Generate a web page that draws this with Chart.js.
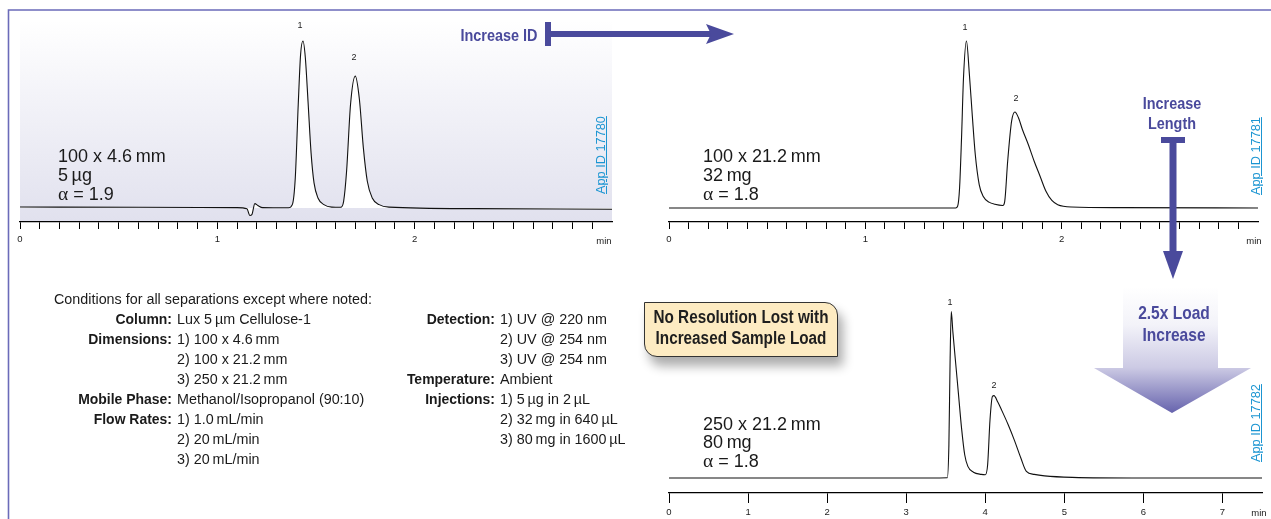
<!DOCTYPE html>
<html><head><meta charset="utf-8">
<script src="https://cdn.jsdelivr.net/npm/chart.js@4.4.1/dist/chart.umd.min.js"></script>
<style>
html,body{margin:0;padding:0;background:#fff;}
#wrap{position:relative;width:1271px;height:519px;overflow:hidden;background:#fff;}
canvas{position:absolute;}
.t{position:absolute;white-space:pre;font-family:'Liberation Sans',Arial,sans-serif;color:#1a1a1a;}
.big{font-size:18px;line-height:18px;}
.al{font-family:'Liberation Serif',serif;font-size:19.5px;}
.pk{font-size:9px;line-height:9px;color:#222;transform:translateX(-50%);}
.mn{font-size:9.5px;line-height:9.5px;color:#222;transform:translateX(-50%);}
.cond{font-size:15.5px;line-height:15.5px;transform-origin:0 50%;transform:scaleX(0.925);}
.lab{font-weight:bold;transform-origin:100% 50%;transform:translateX(-100%) scaleX(0.9);}
.blue{color:#4a4a9c;font-weight:bold;text-align:center;}
.app{color:#1b95d2;font-size:13px;line-height:13px;text-decoration:underline;transform-origin:0 0;transform:rotate(-90deg) scaleX(0.98);}
#note{position:absolute;left:644px;top:302px;width:192px;height:53px;background:#fdebc2;border:1.5px solid #333;border-radius:0 13px 0 13px;box-shadow:5px 9px 11px rgba(0,0,0,0.33);}
svg{position:absolute;left:0;top:0;}
</style>
</head><body>
<div id="wrap">
<canvas id="c1" width="622" height="230" style="left:5px;top:20px"></canvas>
<canvas id="c2" width="619" height="230" style="left:654px;top:20px"></canvas>
<canvas id="c3" width="623" height="219" style="left:654px;top:300px"></canvas>

<svg width="1271" height="519">
  <defs>
    <linearGradient id="ga" x1="0" y1="287" x2="0" y2="413" gradientUnits="userSpaceOnUse">
      <stop offset="0" stop-color="#ffffff"/>
      <stop offset="0.3" stop-color="#f3f3f9"/>
      <stop offset="0.64" stop-color="#cccae4"/>
      <stop offset="1" stop-color="#6663ad"/>
    </linearGradient>
  </defs>
  <path d="M8.5,519 L8.5,10 L1271,10" fill="none" stroke="#6b6bb9" stroke-width="1.6"/>
  <rect x="545" y="22" width="6" height="24" fill="#4a4a9c"/>
  <rect x="551" y="31" width="160" height="6" fill="#4a4a9c"/>
  <polygon points="706,24 734,34 706,44 711,34" fill="#4a4a9c"/>
  <rect x="1161" y="137" width="24" height="6" fill="#4a4a9c"/>
  <rect x="1169.5" y="143" width="7" height="110" fill="#4a4a9c"/>
  <polygon points="1163,251 1183,251 1173,279" fill="#4a4a9c"/>
  <polygon points="1123,287 1218,287 1218,368 1251,368 1172,413 1094,368 1123,368" fill="url(#ga)"/>
</svg>

<div id="note"></div>
<div class="t" style="left:741px;top:307px;transform:translateX(-50%) scaleX(0.85);text-align:center;font-weight:bold;font-size:18px;line-height:21px;color:#1e1e1e;">No Resolution Lost with
Increased Sample Load</div>

<div class="t blue" style="left:498.5px;top:27px;font-size:17px;line-height:17px;transform:translateX(-50%) scaleX(0.85);">Increase ID</div>
<div class="t blue" style="left:1172px;top:94px;font-size:16px;line-height:20px;transform:translateX(-50%) scaleX(0.9);">Increase
Length</div>
<div class="t blue" style="left:1174px;top:302px;font-size:18.5px;line-height:22px;transform:translateX(-50%) scaleX(0.84);">2.5x Load
Increase</div>

<!-- chart 1 annotations -->
<div class="t big" style="left:58px;top:147px;">100 x 4.6&#8201;mm</div>
<div class="t big" style="left:58px;top:166px;">5&#8201;µg</div>
<div class="t big" style="left:58px;top:185px;"><span class="al">α</span> = 1.9</div>
<div class="t pk" style="left:300px;top:21px;">1</div>
<div class="t pk" style="left:354px;top:53px;">2</div>
<div class="t mn" style="left:604px;top:236px;">min</div>
<div class="t app" style="left:594px;top:194px;">App ID 17780</div>

<!-- chart 2 annotations -->
<div class="t big" style="left:703px;top:147px;">100 x 21.2&#8201;mm</div>
<div class="t big" style="left:703px;top:166px;">32&#8201;mg</div>
<div class="t big" style="left:703px;top:185px;"><span class="al">α</span> = 1.8</div>
<div class="t pk" style="left:965px;top:23px;">1</div>
<div class="t pk" style="left:1016px;top:94px;">2</div>
<div class="t mn" style="left:1254px;top:236px;">min</div>
<div class="t app" style="left:1249px;top:195px;">App ID 17781</div>

<!-- chart 3 annotations -->
<div class="t big" style="left:703px;top:415px;">250 x 21.2&#8201;mm</div>
<div class="t big" style="left:703px;top:433px;">80&#8201;mg</div>
<div class="t big" style="left:703px;top:452px;"><span class="al">α</span> = 1.8</div>
<div class="t pk" style="left:950px;top:298px;">1</div>
<div class="t pk" style="left:994px;top:381px;">2</div>
<div class="t mn" style="left:1259px;top:508px;">min</div>
<div class="t app" style="left:1249px;top:462px;">App ID 17782</div>

<!-- conditions -->
<div class="t cond" style="left:54px;top:291px;">Conditions for all separations except where noted:</div>
<div id="condL"></div>
<div id="condR"></div>
</div>

<script>
// ---------- data ----------
const tickLabelsTop = ['0', '1', '2'];
const tickLabelsBottom = ['0', '1', '2', '3', '4', '5', '6', '7'];

const chart1Time   = [0, 0.6, 1.10, 1.15, 1.165, 1.175, 1.19, 1.205, 1.23, 1.36, 1.38, 1.395, 1.41, 1.422, 1.434, 1.446, 1.46, 1.475, 1.49, 1.51, 1.54, 1.58, 1.625, 1.64, 1.655, 1.675, 1.699, 1.72, 1.74, 1.76, 1.785, 1.82, 1.87, 2.3, 3.0];
const chart1Signal = [0.6, 0.4, 0.2, -0.5, -4.5, -4.0, 2.6, 1.5, 0.2, 0.1, 2, 18, 62, 92, 100, 90, 63, 33, 15, 6, 2, 0.5, 0.4, 4, 22, 62, 79, 65, 36, 16, 6, 2, 0.5, -0.4, -0.8];

const chart2Time   = [0, 1.0, 1.46, 1.47, 1.48, 1.49, 1.50, 1.515, 1.53, 1.545, 1.56, 1.58, 1.60, 1.63, 1.66, 1.70, 1.71, 1.725, 1.745, 1.762, 1.78, 1.80, 1.83, 1.86, 1.89, 1.92, 1.95, 1.98, 2.05, 2.3, 3.0];
const chart2Signal = [0, 0, 0, 1, 12, 42, 78, 100, 80, 55, 32, 14, 7, 3.5, 2.2, 1.5, 4, 28, 52, 57.5, 54, 47, 38, 28, 19, 10, 4.5, 2, 0.6, 0.2, 0];

const chart3Time   = [0, 3.0, 3.52, 3.54, 3.555, 3.57, 3.59, 3.62, 3.66, 3.70, 3.74, 3.78, 3.85, 3.95, 4.00, 4.03, 4.06, 4.09, 4.11, 4.16, 4.21, 4.29, 4.37, 4.45, 4.52, 4.62, 4.75, 5.1, 6.0, 7.5];
const chart3Signal = [0, 0, 0.2, 20, 70, 100, 88, 72, 51, 30, 14, 7, 3.5, 2.2, 2, 8, 35, 49, 49.5, 45.5, 40.5, 32, 22.5, 12, 4, 2.2, 1.3, 0.4, 0, 0];

const condLeftLabels = ['Column:', 'Dimensions:', '', '', 'Mobile Phase:', 'Flow Rates:', '', ''];
const condLeftValues = ['Lux 5\u2009µm Cellulose-1', '1) 100 x 4.6\u2009mm', '2) 100 x 21.2\u2009mm', '3) 250 x 21.2\u2009mm', 'Methanol/Isopropanol (90:10)', '1) 1.0\u2009mL/min', '2) 20\u2009mL/min', '3) 20\u2009mL/min'];
const condRightLabels = ['Detection:', '', '', 'Temperature:', 'Injections:', '', ''];
const condRightValues = ['1) UV @ 220 nm', '2) UV @ 254 nm', '3) UV @ 254 nm', 'Ambient', '1) 5\u2009µg in 2\u2009µL', '2) 32\u2009mg in 640\u2009µL', '3) 80\u2009mg in 1600\u2009µL'];

// ---------- conditions text ----------
function condBlock(el, labels, values, labelX, top) {
  let html = '';
  labels.forEach((l, i) => {
    const y = top + i * 20;
    if (l) html += `<div class="t cond lab" style="left:${labelX}px;top:${y}px;">${l}</div>`;
    html += `<div class="t cond" style="left:${labelX + 5}px;top:${y}px;">${values[i]}</div>`;
  });
  el.outerHTML = html;
}
condBlock(document.getElementById('condL'), condLeftLabels, condLeftValues, 172, 311);
condBlock(document.getElementById('condR'), condRightLabels, condRightValues, 495, 311);

// ---------- charts ----------
const bgPlugin = {
  id: 'bgGrad',
  beforeDraw(chart) {
    const {ctx, chartArea: a} = chart;
    const g = ctx.createLinearGradient(0, a.top, 0, a.bottom);
    g.addColorStop(0, '#ffffff');
    g.addColorStop(0.35, '#f4f4f9');
    g.addColorStop(1, '#e1e1ee');
    ctx.save();
    ctx.fillStyle = g;
    ctx.fillRect(a.left, a.top + 2, a.right - a.left, a.bottom - a.top - 2);
    ctx.restore();
  }
};

function makeChart(id, times, signal, labels, cfg) {
  return new Chart(document.getElementById(id), {
    type: 'line',
    data: {
      datasets: [{
        data: times.map((t, i) => ({x: t, y: signal[i]})),
        borderColor: '#111',
        borderWidth: 1.1,
        pointRadius: 0,
        cubicInterpolationMode: 'monotone',
        fill: cfg.fill ? {value: 0} : false,
        backgroundColor: '#ffffff'
      }]
    },
    options: {
      responsive: false,
      animation: false,
      devicePixelRatio: 1,
      layout: {padding: {left: 15, right: 15, top: 0, bottom: 0}},
      plugins: {legend: {display: false}, tooltip: {enabled: false}},
      scales: {
        x: {
          type: 'linear', min: 0, max: cfg.xmax,
          afterFit: s => { s.height = cfg.axisH; },
          border: {display: true, color: '#000', width: 1.3},
          grid: {
            display: true, drawOnChartArea: false, drawTicks: true,
            tickLength: cfg.tickLen, lineWidth: 1,
            color: c => (c.tick && c.tick.value > cfg.xmax - 0.05) ? 'rgba(0,0,0,0)' : '#000'
          },
          ticks: {
            stepSize: cfg.step, autoSkip: false, maxRotation: 0, padding: cfg.pad,
            color: '#222', font: {family: 'Liberation Sans', size: 9.5},
            callback: v => {
              const r = Math.round(v);
              return (Math.abs(v - r) < 1e-6 && r < labels.length) ? labels[r] : '';
            }
          }
        },
        y: {display: false, min: cfg.ymin, max: cfg.ymax}
      }
    },
    plugins: cfg.bg ? [bgPlugin] : []
  });
}

makeChart('c1', chart1Time, chart1Signal, tickLabelsTop,
  {xmax: 3, step: 0.1, axisH: 28, tickLen: 7, pad: 5, ymin: -8.4, ymax: 112.6, fill: true, bg: true});
makeChart('c2', chart2Time, chart2Signal, tickLabelsTop,
  {xmax: 3, step: 0.1, axisH: 28, tickLen: 7, pad: 5, ymin: -8.4, ymax: 112.6, fill: false, bg: false});
makeChart('c3', chart3Time, chart3Signal, tickLabelsBottom,
  {xmax: 7.5, step: 1, axisH: 26, tickLen: 10, pad: 4, ymin: -9.0, ymax: 107, fill: false, bg: false});
</script>
</body></html>
